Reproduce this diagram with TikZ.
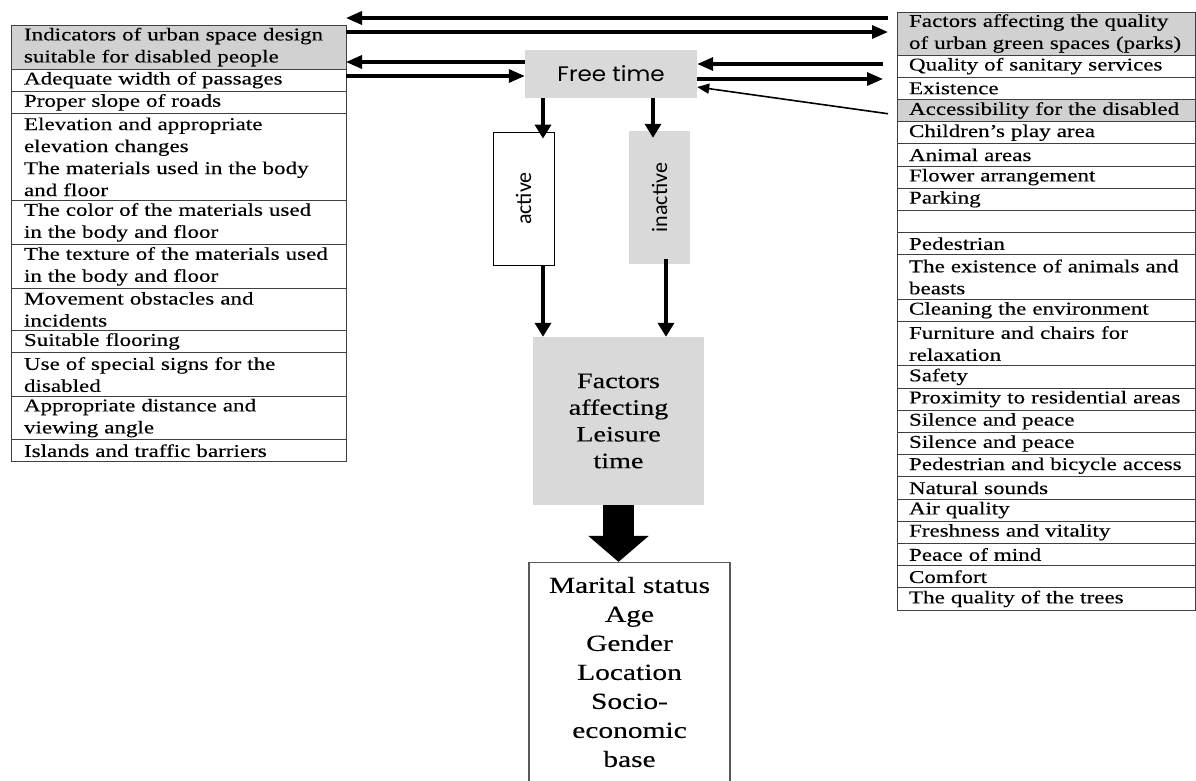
\documentclass[tikz,border=0pt]{standalone}
\usepackage{fontspec}
\usepackage{graphicx}
\setmainfont[FakeStretch=1.28, FakeBold=0.3]{Liberation Serif}
\newfontfamily\freefont[FakeStretch=1.1]{Poppins}
\newfontfamily\rotfont{Carlito}
\usetikzlibrary{arrows.meta, positioning}
\tikzstyle{lcell} = [rectangle, draw=black!75, line width=0.8pt, text width=309pt, inner xsep=13pt, inner ysep=0pt, outer sep=0pt, minimum height=22.2pt, align=left, font=\fontsize{18}{22}\selectfont]
\tikzstyle{rcell} = [lcell, text width=274pt, inner xsep=12pt]
\tikzstyle{headcell} = [fill=black!18]
\tikzstyle{graybox} = [rectangle, fill=black!15, inner sep=0pt, align=center]
\tikzstyle{arrow} = [line width=3.2pt, -{Triangle[length=16pt,width=13pt]}]
\tikzstyle{downarrow} = [line width=4pt, -{Triangle[length=14pt,width=16pt]}]
\tikzstyle{thinarrow} = [line width=1.6pt, -{Triangle[length=12pt,width=10pt]}]
\tikzstyle{bigarrow} = [line width=31pt, -{Triangle[length=26pt,width=59pt]}]

\begin{document}
\begin{tikzpicture}[x=1pt, y=-1pt, node distance=0pt]
\useasboundingbox (0,0) rectangle (1196,780);

\node (lhead) [lcell, headcell, anchor=north west, minimum height=44pt] at (11,25) {Indicators of urban space design\\suitable for disabled people};
\node (lwidth) [lcell, below=of lhead] {Adequate width of passages};
\node (lslope) [lcell, below=of lwidth] {Proper slope of roads};
\node (lelev) [lcell, below=of lslope, minimum height=87pt] {Elevation and appropriate\\elevation changes\\The materials used in the body\\and floor};
\node (lcolor) [lcell, below=of lelev, minimum height=44pt] {The color of the materials used\\in the body and floor};
\node (ltexture) [lcell, below=of lcolor, minimum height=44pt] {The texture of the materials used\\in the body and floor};
\node (lobst) [lcell, below=of ltexture, minimum height=42pt] {Movement obstacles and\\incidents};
\node (lfloor) [lcell, below=of lobst] {Suitable flooring};
\node (lsigns) [lcell, below=of lfloor, minimum height=44pt] {Use of special signs for the\\disabled};
\node (lview) [lcell, below=of lsigns, minimum height=43pt] {Appropriate distance and\\viewing angle};
\node (lisland) [lcell, below=of lview] {Islands and traffic barriers};

\node (rhead) [rcell, headcell, anchor=north west, minimum height=43pt] at (897,12) {Factors affecting the quality\\of urban green spaces (parks)};
\node (rsan) [rcell, below=of rhead] {Quality of sanitary services};
\node (rexist) [rcell, below=of rsan] {Existence};
\node (racc) [rcell, headcell, below=of rexist] {Accessibility for the disabled};
\node (rplay) [rcell, below=of racc] {Children's play area};
\node (ranimal) [rcell, below=of rplay] {Animal areas};
\node (rflower) [rcell, below=of ranimal] {Flower arrangement};
\node (rpark) [rcell, below=of rflower] {Parking};
\node (rblank) [rcell, below=of rpark] {};
\node (rped) [rcell, below=of rblank] {Pedestrian};
\node (rbeast) [rcell, below=of rped, minimum height=44.4pt] {The existence of animals and\\beasts};
\node (rclean) [rcell, below=of rbeast] {Cleaning the environment};
\node (rfurn) [rcell, below=of rclean, minimum height=44.4pt] {Furniture and chairs for\\relaxation};
\node (rsafe) [rcell, below=of rfurn] {Safety};
\node (rprox) [rcell, below=of rsafe] {Proximity to residential areas};
\node (rsilA) [rcell, below=of rprox] {Silence and peace};
\node (rsilB) [rcell, below=of rsilA] {Silence and peace};
\node (rbike) [rcell, below=of rsilB] {Pedestrian and bicycle access};
\node (rsound) [rcell, below=of rbike] {Natural sounds};
\node (rair) [rcell, below=of rsound] {Air quality};
\node (rfresh) [rcell, below=of rair] {Freshness and vitality};
\node (rmind) [rcell, below=of rfresh] {Peace of mind};
\node (rcomfort) [rcell, below=of rmind] {Comfort};
\node (rtrees) [rcell, below=of rcomfort] {The quality of the trees};

\node (free) [graybox, minimum width=172pt, minimum height=48pt, font=\freefont\fontsize{21}{24}\selectfont] at (611,74) {Free time};
\node (active) [rectangle, draw, line width=0.8pt, inner sep=0pt, minimum width=61pt, minimum height=133pt, font=\rotfont\fontsize{22}{24}\selectfont] at (523.5,198.5) {\rotatebox{90}{active}};
\node (inactive) [graybox, minimum width=61pt, minimum height=133pt, font=\rotfont\fontsize{22}{24}\selectfont] at (659.5,197.5) {\rotatebox{90}{inactive}};
\node (factors) [graybox, minimum width=171pt, minimum height=168pt, font=\fontsize{22}{26.7}\selectfont] at (618.5,421) {Factors\\affecting\\Leisure\\time};
\node (marital) [rectangle, draw=black!65, line width=1.2pt, minimum width=201pt, minimum height=219pt, align=center, font=\fontsize{23}{29}\selectfont] at (629.5,672) {Marital status\\Age\\Gender\\Location\\Socio-\\economic\\base};

\draw[arrow, shorten <=9pt] (rhead.west |- 0,18) -- (lhead.east |- 0,18);
\draw[arrow, shorten >=9pt] (lhead.east |- 0,32) -- (rhead.west |- 0,32);
\draw[arrow] (free.west |- 0,62) -- (lhead.east |- 0,62);
\draw[arrow] (lhead.east |- 0,76) -- (free.west |- 0,76);
\draw[arrow, shorten <=14pt] (rsan.west |- 0,64) -- (free.east |- 0,64);
\draw[arrow, shorten >=14pt] (free.east |- 0,79) -- (rsan.west |- 0,79);
\draw[thinarrow, shorten <=9pt] (racc.west |- 0,115) -- (free.east |- 0,87);

\draw[downarrow, shorten >=-7pt] (free.south -| 543,0) -- (active.north -| 543,0);
\draw[downarrow, shorten >=-7pt] (free.south -| 653,0) -- (inactive.north -| 653,0);
\draw[downarrow] (active.south -| 543,0) -- (factors.north -| 543,0);
\draw[downarrow, shorten <=-5pt] (inactive.south -| 666,0) -- (factors.north -| 666,0);
\draw[bigarrow] (factors.south) -- (marital.north -| factors.south);
\end{tikzpicture}
\end{document}
